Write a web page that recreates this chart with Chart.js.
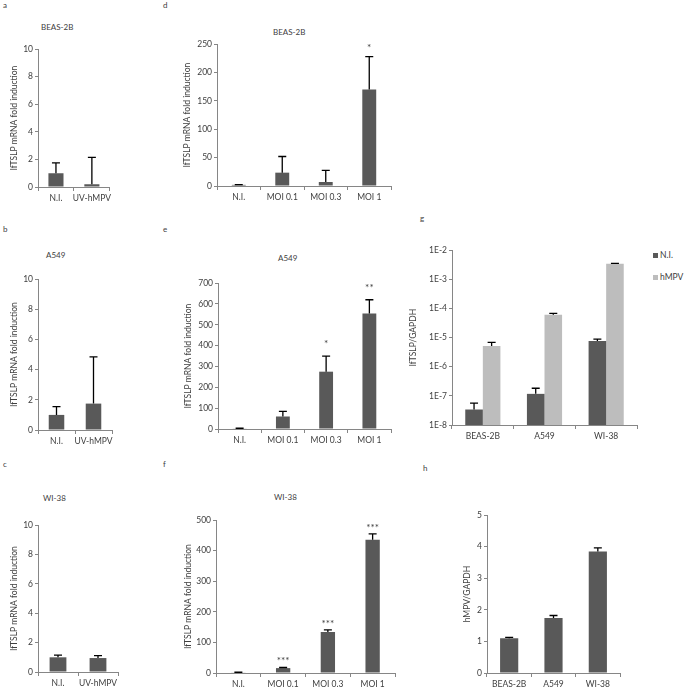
<!DOCTYPE html>
<html>
<head>
<meta charset="utf-8">
<script src="https://cdn.jsdelivr.net/npm/chart.js@4.4.1/dist/chart.umd.min.js"></script>
<style>
  body { margin: 0; width: 685px; height: 690px; position: relative; overflow: hidden; background: #fff; font-family: Lato, sans-serif; color: #404040; }
  .p { position: absolute; }
  .t { position: absolute; font-size: 8px; line-height: 10px; white-space: nowrap; }
  .lg { position: absolute; font-size: 8.5px; line-height: 10px; white-space: nowrap; }
  .lg i { display: inline-block; width: 5px; height: 5px; margin-right: 2px; vertical-align: 0px; }
</style>
</head>
<body>

<div class="t" style="left:3px;top:0px">a</div>
<div class="t" style="left:3px;top:224px">b</div>
<div class="t" style="left:3px;top:459px">c</div>
<div class="t" style="left:163px;top:0px">d</div>
<div class="t" style="left:163px;top:224px">e</div>
<div class="t" style="left:163px;top:459px">f</div>
<div class="t" style="left:420px;top:213px">g</div>
<div class="t" style="left:423px;top:463px">h</div>

<div class="t" style="left:41px;top:22px">BEAS-2B</div>
<div class="t" style="left:46px;top:250px">A549</div>
<div class="t" style="left:43px;top:493px">WI-38</div>
<div class="t" style="left:273px;top:27px">BEAS-2B</div>
<div class="t" style="left:278px;top:253px">A549</div>
<div class="t" style="left:274px;top:492px">WI-38</div>

<div class="lg" style="left:653px;top:250px"><i style="background:#595959"></i>N.I.</div>
<div class="lg" style="left:653px;top:272px"><i style="background:#bdbdbd"></i>hMPV</div>

<div class="p"><canvas id="ca"></canvas></div>
<div class="p"><canvas id="cb"></canvas></div>
<div class="p"><canvas id="cc"></canvas></div>
<div class="p"><canvas id="cd"></canvas></div>
<div class="p"><canvas id="ce"></canvas></div>
<div class="p"><canvas id="cf"></canvas></div>
<div class="p"><canvas id="cg"></canvas></div>
<div class="p"><canvas id="ch"></canvas></div>

<script>
// categories
const uvLabels = ['N.I.', 'UV-hMPV'];
const moiLabels = ['N.I.', 'MOI 0.1', 'MOI 0.3', 'MOI 1'];
const cellLabels = ['BEAS-2B', 'A549', 'WI-38'];

// a-c: UV-inactivated virus, fold induction (mean, + error)
const beasUv = [1.0, 0.2];
const beasUvErr = [0.75, 1.95];
const a549Uv = [1.0, 1.75];
const a549UvErr = [0.55, 3.1];
const wi38Uv = [1.0, 0.95];
const wi38UvErr = [0.15, 0.17];

// d-f: MOI series, fold induction
const beasMoi = [2, 23.5, 7, 170];
const beasMoiErr = [0.5, 28.5, 20.5, 58];
const beasStars = ['', '', '', '*'];
const a549Moi = [3, 60, 275, 554];
const a549MoiErr = [0.5, 25, 75, 66];
const a549Stars = ['', '', '*', '**'];
const wi38Moi = [2, 16, 134, 436];
const wi38MoiErr = [0.5, 2, 7, 19];
const wi38Stars = ['', '***', '***', '***'];

// g: lfTSLP/GAPDH (log)
const gNi = [3.4e-8, 1.17e-7, 7.6e-6];
const gNiErr = [2.2e-8, 0.65e-7, 1.3e-6];
const gHmpv = [5.1e-6, 6.0e-5, 3.4e-3];
const gHmpvErr = [1.7e-6, 0.7e-5, 0.1e-3];
const gTicks = [1e-8, 1e-7, 1e-6, 1e-5, 1e-4, 1e-3, 1e-2];

// h: hMPV/GAPDH
const hVals = [1.1, 1.74, 3.85];
const hErr = [0.03, 0.08, 0.11];

const DARK = '#595959', LIGHT = '#bdbdbd', AX = '#868686', TXT = '#404040';
const XH = 19, PT = 6, PR = 4, LH = 10;
const yTitle = 'lfTSLP mRNA fold induction';

const errorBars = {
  id: 'errorBars',
  afterDatasetsDraw(chart) {
    const ctx = chart.ctx, y = chart.scales.y;
    chart.data.datasets.forEach((ds, i) => {
      if (!ds.err) return;
      chart.getDatasetMeta(i).data.forEach((bar, j) => {
        const top = y.getPixelForValue(ds.data[j] + ds.err[j]);
        ctx.save();
        ctx.strokeStyle = '#000';
        ctx.lineWidth = 1.3;
        ctx.beginPath();
        ctx.moveTo(bar.x, bar.y);
        ctx.lineTo(bar.x, top);
        ctx.moveTo(bar.x - 4, top);
        ctx.lineTo(bar.x + 4, top);
        ctx.stroke();
        if (ds.stars && ds.stars[j]) {
          ctx.fillStyle = TXT;
          ctx.font = '10px Lato';
          ctx.textAlign = 'center';
          ctx.textBaseline = 'alphabetic';
          ctx.fillText(ds.stars[j], bar.x, top - chart.options.starGap);
        }
        ctx.restore();
      });
    });
  }
};

// plot = [left, right, top, bottom] of the plot area, tx = centre of y title
function barChart(id, plot, tx, labels, datasets, yOpts, barPct, catPct, starGap) {
  const el = document.getElementById(id);
  const wrap = el.parentNode;
  const left = tx - LH / 2;
  const yw = plot[0] - left;
  wrap.style.left = left + 'px';
  wrap.style.top = (plot[2] - PT) + 'px';
  wrap.style.width = (plot[1] - left + PR) + 'px';
  wrap.style.height = (plot[3] - plot[2] + PT + XH) + 'px';
  datasets.forEach(d => { d.barPercentage = barPct; d.categoryPercentage = catPct; });
  const y = Object.assign({
    beginAtZero: true,
    grid: { drawOnChartArea: false, tickLength: 3, color: AX },
    border: { color: AX },
    afterFit: s => { s.width = yw; }
  }, yOpts);
  y.ticks = Object.assign({ color: TXT, font: { size: 8.5, family: 'Lato' }, padding: 2 }, yOpts.ticks);
  y.title.font = { size: 8.5, family: 'Lato', lineHeight: 1.2 };
  y.title.color = TXT;
  y.title.padding = { top: 0, bottom: 0 };
  y.title.display = true;
  return new Chart(el, {
    type: 'bar',
    data: { labels: labels, datasets: datasets },
    options: {
      responsive: true,
      maintainAspectRatio: false,
      animation: false,
      starGap: starGap || 0,
      layout: { padding: { top: PT, right: PR, left: 0, bottom: 0 } },
      plugins: { legend: { display: false }, tooltip: { enabled: false } },
      scales: {
        x: {
          grid: { drawOnChartArea: false, tickLength: 4, color: AX, offset: true },
          border: { color: AX },
          ticks: { color: TXT, font: { size: 8.5, family: 'Lato' }, padding: 2, maxRotation: 0, autoSkip: false },
          afterFit: s => { s.height = XH; }
        },
        y: y
      }
    },
    plugins: [errorBars]
  });
}

function one(data, err, stars) {
  return [{ data: data, err: err, stars: stars, backgroundColor: DARK }];
}

barChart('ca', [38, 110, 48, 187], 14, uvLabels, one(beasUv, beasUvErr),
  { max: 10, ticks: { stepSize: 2 }, title: { text: yTitle } }, 0.42, 1);
barChart('cb', [38, 112, 278, 430], 14, uvLabels, one(a549Uv, a549UvErr),
  { max: 10, ticks: { stepSize: 2 }, title: { text: yTitle } }, 0.42, 1);
barChart('cc', [38, 118, 524, 672], 14, uvLabels, one(wi38Uv, wi38UvErr),
  { max: 10, ticks: { stepSize: 2 }, title: { text: yTitle } }, 0.42, 1);

barChart('cd', [217, 391, 43, 186], 187, moiLabels, one(beasMoi, beasMoiErr, beasStars),
  { max: 250, ticks: { stepSize: 50 }, title: { text: yTitle } }, 0.32, 1, 6);
barChart('ce', [218, 391, 282, 429], 188, moiLabels, one(a549Moi, a549MoiErr, a549Stars),
  { max: 700, ticks: { stepSize: 100 }, title: { text: yTitle } }, 0.32, 1, 9);
barChart('cf', [216, 395, 519, 673], 188, moiLabels, one(wi38Moi, wi38MoiErr, wi38Stars),
  { max: 500, ticks: { stepSize: 100 }, title: { text: yTitle } }, 0.32, 1, 3);

barChart('cg', [452, 637, 249, 425], 413, cellLabels, [
    { data: gNi, err: gNiErr, backgroundColor: DARK },
    { data: gHmpv, err: gHmpvErr, backgroundColor: LIGHT }
  ],
  {
    type: 'logarithmic', min: 1e-8, max: 1e-2, beginAtZero: false,
    afterBuildTicks: s => { s.ticks = gTicks.map(v => ({ value: v })); },
    ticks: { callback: v => '1E' + Math.round(Math.log10(v)) },
    title: { text: 'lfTSLP/GAPDH' }
  }, 1, 0.57);

barChart('ch', [487, 620, 514, 673], 467, cellLabels, one(hVals, hErr),
  { max: 5, ticks: { stepSize: 1 }, title: { text: 'hMPV/GAPDH' } }, 0.41, 1);
</script>
</body>
</html>
